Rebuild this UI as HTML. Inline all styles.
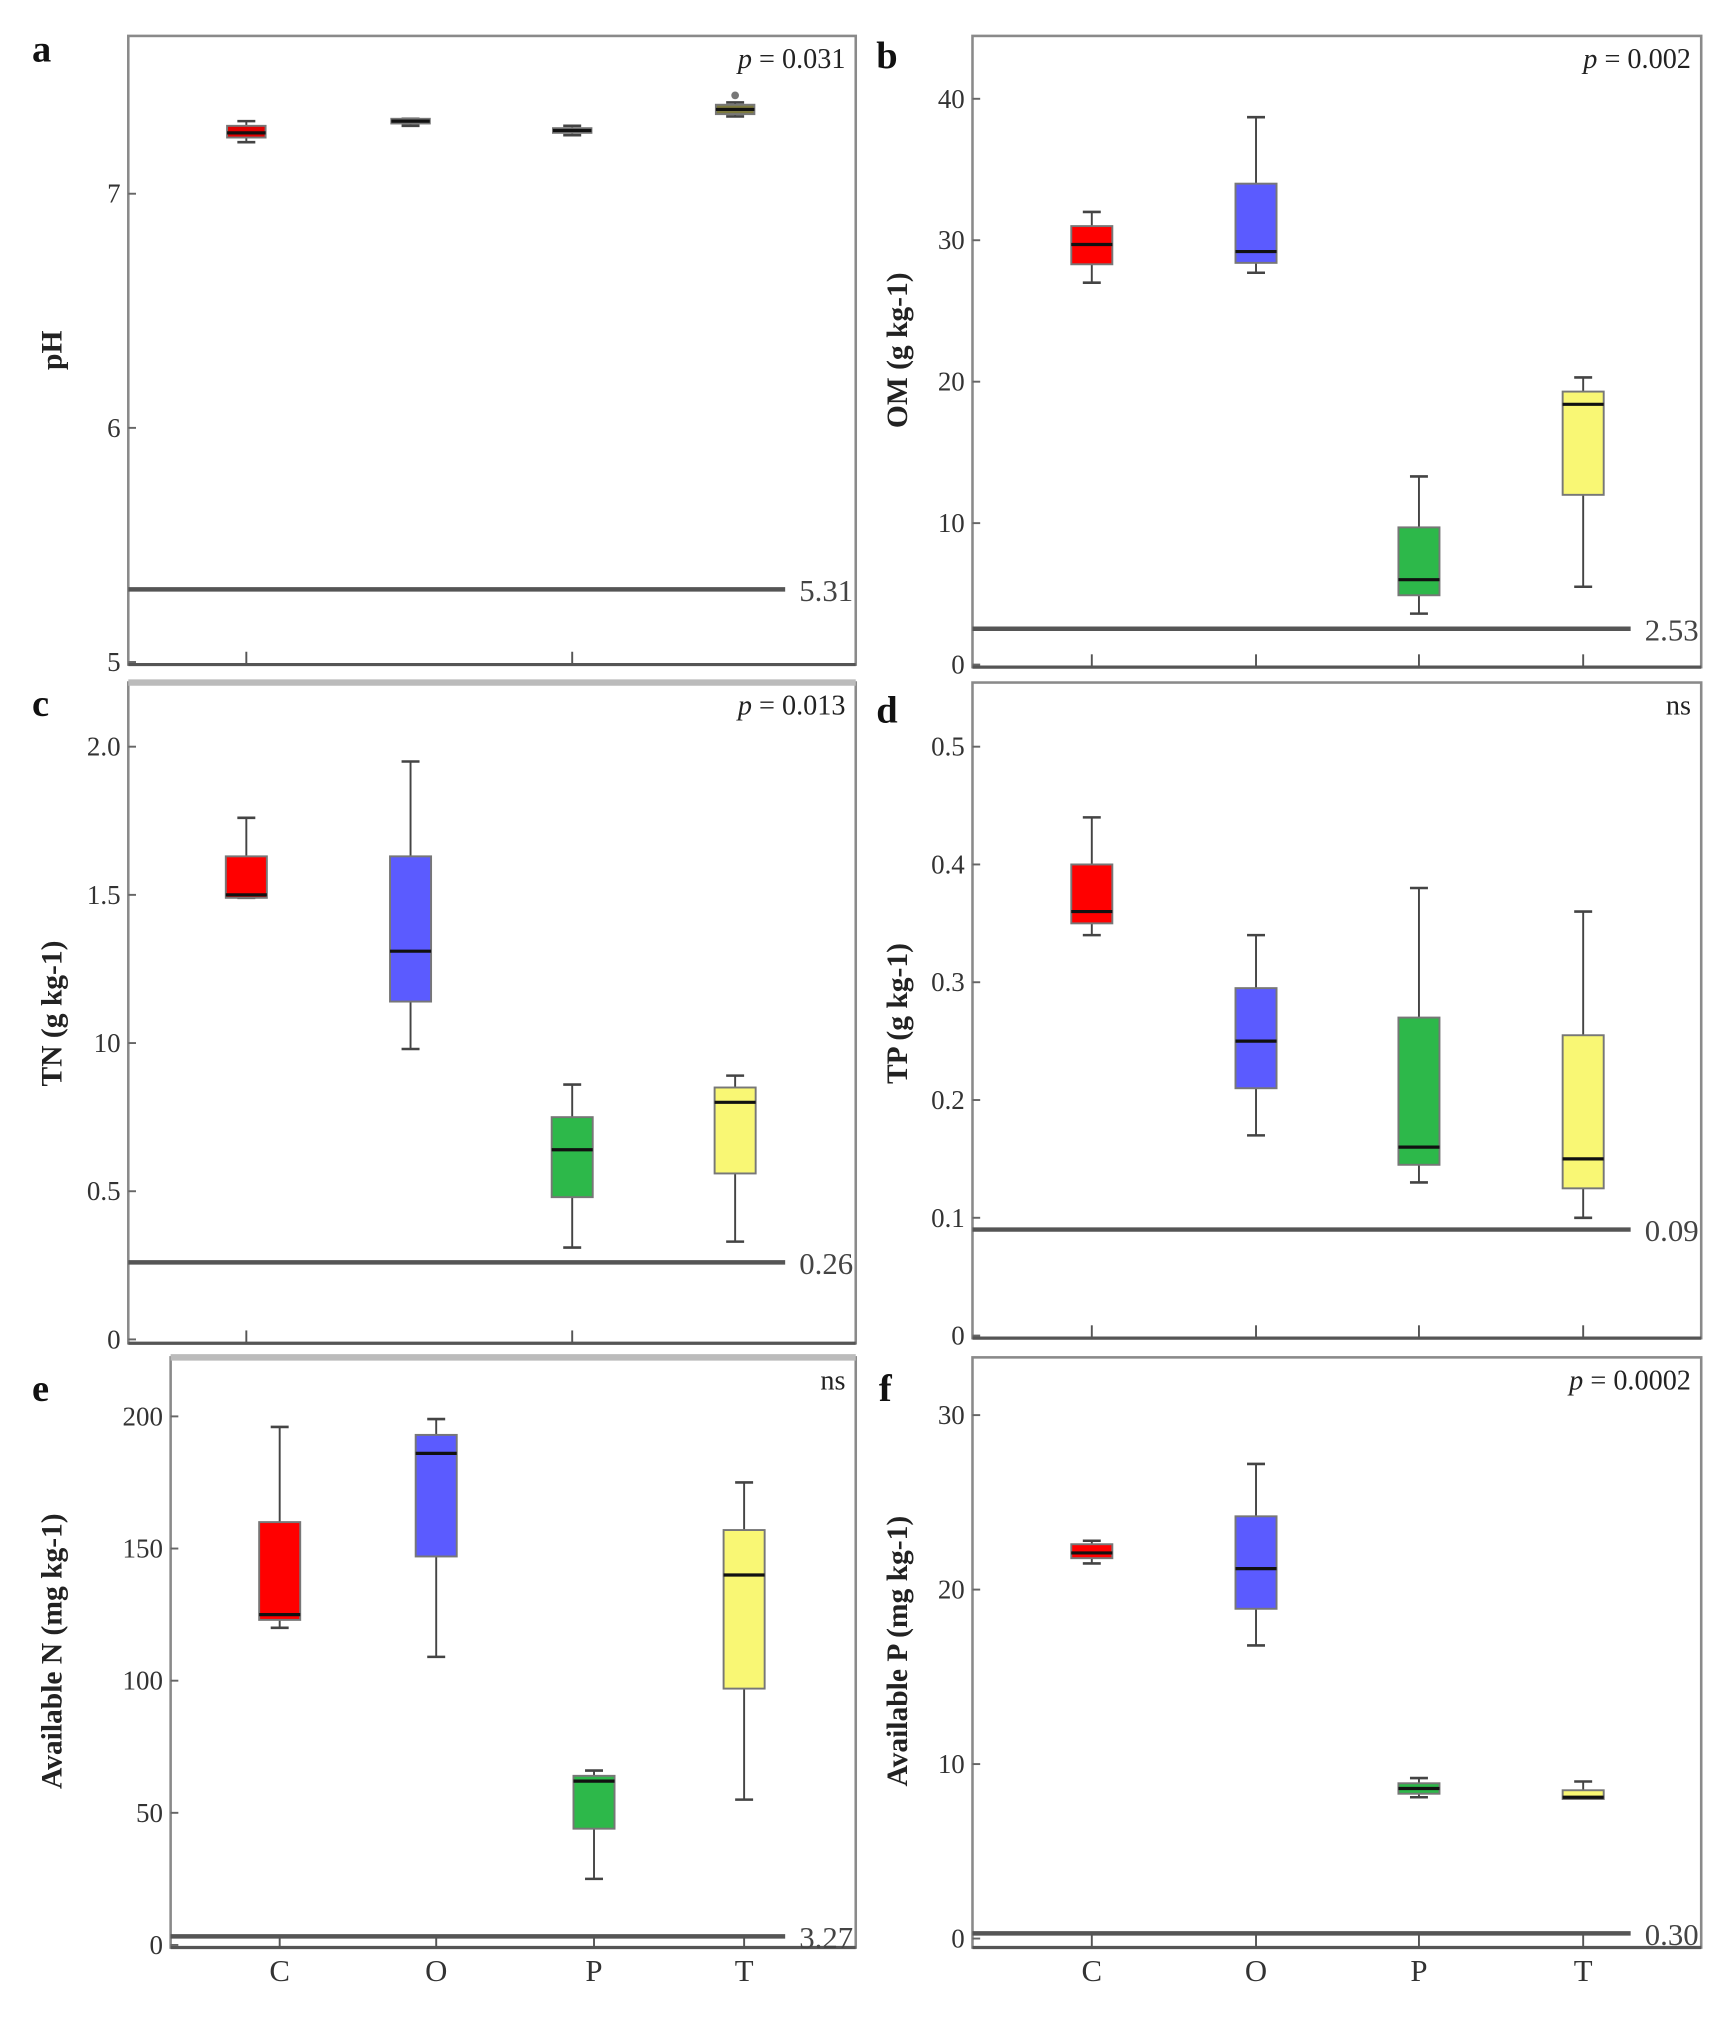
<!DOCTYPE html>
<html><head><meta charset="utf-8"><style>
html,body{margin:0;padding:0;background:#fff;}
svg{display:block;}
text{font-family:"Liberation Serif",serif;}
</style></head><body>
<svg id="fig" width="1732" height="2019" viewBox="0 0 1350 1573.7" preserveAspectRatio="none" xmlns="http://www.w3.org/2000/svg"></svg>
<script>
const categories = ["C","O","P","T"];
const colorsMain = ["#ff0000","#5b5bff","#2db84a","#f9f774"];
const colorsPH = ["#e00000","#222222","#0d6b1e","#7d7a3e"];
// box stats: [min, q1, median, q3, max]
const statsPH = [[7.22,7.24,7.26,7.29,7.31],[7.29,7.30,7.31,7.32,7.32],[7.25,7.26,7.27,7.28,7.29],[7.33,7.34,7.36,7.38,7.39]];
const statsOM = [[27,28.3,29.7,31,32],[27.7,28.4,29.2,34,38.7],[3.6,4.9,6,9.7,13.3],[5.5,12,18.4,19.3,20.3]];
const statsTN = [[1.49,1.49,1.5,1.63,1.76],[0.98,1.14,1.31,1.63,1.95],[0.31,0.48,0.64,0.75,0.86],[0.33,0.56,0.8,0.85,0.89]];
const statsTP = [[0.34,0.35,0.36,0.40,0.44],[0.17,0.21,0.25,0.295,0.34],[0.13,0.145,0.16,0.27,0.38],[0.10,0.125,0.15,0.255,0.36]];
const statsAN = [[120,123,125,160,196],[109,147,186,193,199],[25,44,62,64,66],[55,97,140,157,175]];
const statsAP = [[21.5,21.8,22.1,22.6,22.8],[16.8,18.9,21.2,24.2,27.2],[8.1,8.3,8.6,8.9,9.2],[8.2,8.0,8.1,8.5,9.0]];
const outliersPH = [null,null,null,7.42];
const refValues = [5.31,2.53,0.26,0.09,3.27,0.30];
const refLabels = ["5.31","2.53","0.26","0.09","3.27","0.30"];
const ticksPH = [5,6,7], tickLabPH = ["5","6","7"];
const ticksOM = [0,10,20,30,40], tickLabOM = ["0","10","20","30","40"];
const ticksTN = [0,0.5,1.0,1.5,2.0], tickLabTN = ["0","0.5","10","1.5","2.0"];
const ticksTP = [0,0.1,0.2,0.3,0.4,0.5], tickLabTP = ["0","0.1","0.2","0.3","0.4","0.5"];
const ticksAN = [0,50,100,150,200], tickLabAN = ["0","50","100","150","200"];
const ticksAP = [0,10,20,30], tickLabAP = ["0","10","20","30"];

const NS="http://www.w3.org/2000/svg";
const svg=document.getElementById('fig');
function mk(tag,attrs,parent){const e=document.createElementNS(NS,tag);for(const k in attrs)e.setAttribute(k,attrs[k]);(parent||svg).appendChild(e);return e;}

const panels=[
 {id:"a",x0:100,x1:667,y0:28,y1:518,v0:5,py0:516,v1:7,py1:151,cx:[192,320,446,573],xt:[192,446],stats:statsPH,cols:colorsPH,ticks:ticksPH,tl:tickLabPH,ref:0,title:"pH",p:"0.031",ty:273,lx:25,ly:48,bw:30,out:outliersPH},
 {id:"b",x0:758,x1:1326,y0:28,y1:520,v0:0,py0:518,v1:40,py1:77,cx:[851,979,1106,1234],xt:[851,979,1106,1234],stats:statsOM,cols:colorsMain,ticks:ticksOM,tl:tickLabOM,ref:1,title:"OM (g kg-1)",p:"0.002",ty:273,lx:683,ly:53,bw:32},
 {id:"c",x0:100,x1:667,y0:532,y1:1047,v0:0,py0:1044,v1:2,py1:582,cx:[192,320,446,573],xt:[192,446],stats:statsTN,cols:colorsMain,ticks:ticksTN,tl:tickLabTN,ref:2,title:"TN (g kg-1)",p:"0.013",ty:790,lx:25,ly:558,bw:32},
 {id:"d",x0:758,x1:1326,y0:532,y1:1043,v0:0,py0:1041,v1:0.5,py1:582,cx:[851,979,1106,1234],xt:[851,979,1106,1234],stats:statsTP,cols:colorsMain,ticks:ticksTP,tl:tickLabTP,ref:3,title:"TP (g kg-1)",p:null,ty:790,lx:683,ly:563,bw:32},
 {id:"e",x0:133,x1:667,y0:1058,y1:1518,v0:0,py0:1516,v1:200,py1:1104,cx:[218,340,463,580],xt:[218,340,463,580],stats:statsAN,cols:colorsMain,ticks:ticksAN,tl:tickLabAN,ref:4,title:"Available N (mg kg-1)",p:null,ty:1287,lx:25,ly:1092,bw:32,xl:true},
 {id:"f",x0:758,x1:1326,y0:1058,y1:1518,v0:0,py0:1511,v1:30,py1:1103,cx:[851,979,1106,1234],xt:[851,979,1106,1234],stats:statsAP,cols:colorsMain,ticks:ticksAP,tl:tickLabAP,ref:5,title:"Available P (mg kg-1)",p:"0.0002",ty:1287,lx:685,ly:1092,bw:32,xl:true}
];

panels.forEach(P=>{
  const g=mk('g',{});
  
  
  const y=v=>P.py0+(v-P.v0)*(P.py1-P.py0)/(P.v1-P.v0);
  const fr=mk('rect',{x:P.x0,y:P.y0,width:P.x1-P.x0,height:P.y1-P.y0,fill:'none',stroke:'#8a8a8a','stroke-width':2},g);
  
  
  mk('line',{x1:P.x0,x2:P.x1,y1:P.y1,y2:P.y1,stroke:'#555','stroke-width':2.5},g);
  if(P.id==='e'||P.id==='c'){mk('line',{x1:P.x0,x2:P.x1,y1:P.y0,y2:P.y0,stroke:'#bbb','stroke-width':5},g);}
  // y ticks
  P.ticks.forEach((t,i)=>{
    const yy=y(t);
    mk('line',{x1:P.x0,x2:P.x0+6,y1:yy,y2:yy,stroke:'#666','stroke-width':1.5},g);
    const tx=mk('text',{x:P.x0-6,y:yy+7,'text-anchor':'end','font-size':21,fill:'#333'},g);
    tx.textContent=P.tl[i];
    
    
  });
  // x ticks
  P.xt.forEach(xx=>mk('line',{x1:xx,x2:xx,y1:P.y1-10,y2:P.y1,stroke:'#555','stroke-width':1.5},g));
  if(P.xl){categories.forEach((c,i)=>{
    const t=mk('text',{x:P.cx[i],y:P.y1+26,'text-anchor':'middle','font-size':24,fill:'#333'},g);
    t.textContent=c;
    
    
  });}
  // reference line
  const ry=y(refValues[P.ref]);
  const rl=mk('line',{x1:P.x0,x2:P.x1-55,y1:ry,y2:ry,stroke:'#555','stroke-width':3.5},g);
  
  
  const rt=mk('text',{x:P.x1-2,y:ry+9,'text-anchor':'end','font-size':24,fill:'#444'},g);
  rt.textContent=refLabels[P.ref];
  
  
  // boxes
  P.stats.forEach((s,i)=>{
    const cx=P.cx[i],w=P.bw;
    const bg=mk('g',{},g);
    
    
    const qa=Math.min(s[1],s[3]),qb=Math.max(s[1],s[3]);
    mk('line',{x1:cx,x2:cx,y1:y(s[0]),y2:y(s[4]),stroke:'#444','stroke-width':1.5},bg);
    mk('line',{x1:cx-7,x2:cx+7,y1:y(s[0]),y2:y(s[0]),stroke:'#444','stroke-width':2},bg);
    mk('line',{x1:cx-7,x2:cx+7,y1:y(s[4]),y2:y(s[4]),stroke:'#444','stroke-width':2},bg);
    const h=Math.max(y(qa)-y(qb),3);
    mk('rect',{x:cx-w/2,y:y(qb),width:w,height:h,fill:P.cols[i],stroke:'#777','stroke-width':1.5},bg);
    mk('line',{x1:cx-w/2,x2:cx+w/2,y1:y(s[2]),y2:y(s[2]),stroke:'#111','stroke-width':2.5},bg);
    if(P.out&&P.out[i]!=null){const o=mk('circle',{cx:cx,cy:y(P.out[i]),r:3,fill:'#777'},bg);}
  });
  // p label
  const pt=mk('text',{x:P.x1-8,y:P.y0+25,'text-anchor':'end','font-size':22,fill:'#222'},g);
  if(P.p){pt.innerHTML='<tspan font-style="italic">p</tspan> = '+P.p;}else{pt.textContent='ns';}
  
  
  // panel letter
  const lt=mk('text',{x:P.lx,y:P.ly,'font-size':30,'font-weight':'bold',fill:'#111'},g);
  lt.textContent=P.id;
  
  
  // y title
  const ax=P.x0<400?48:707;
  const yt=mk('text',{x:ax,y:P.ty,'text-anchor':'middle','font-size':23,'font-weight':'bold',fill:'#222',transform:'rotate(-90 '+ax+' '+P.ty+')'},g);
  yt.textContent=P.title;
  
  
});
</script>
</body></html>
